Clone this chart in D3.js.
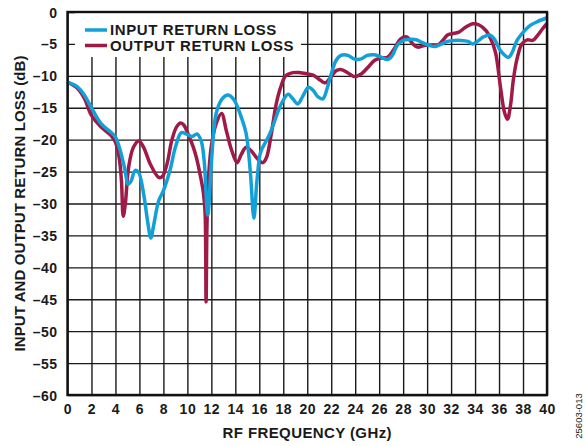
<!DOCTYPE html>
<html>
<head>
<meta charset="utf-8">
<script src="https://cdn.jsdelivr.net/npm/d3@7"></script>
<style>
  html, body { margin: 0; padding: 0; background: #fff; }
  svg { display: block; }
  text { font-family: Arial, 'Liberation Sans', Helvetica, sans-serif; font-weight: bold; fill: #1a1a1a; }
</style>
</head>
<body>
<div id="chart"></div>
<script>
// ── Data ──────────────────────────────────────────────────────
var FREQ_TICKS = [0, 2, 4, 6, 8, 10, 12, 14, 16, 18, 20, 22, 24, 26, 28, 30, 32, 34, 36, 38, 40];
var DB_TICKS   = [0, -5, -10, -15, -20, -25, -30, -35, -40, -45, -50, -55, -60];
var SERIES_NAMES = ['INPUT RETURN LOSS', 'OUTPUT RETURN LOSS'];

var IN_FREQ = [0, 0.8, 1.4, 2.0, 2.8, 3.6, 4.0, 4.4, 4.8, 5.05, 5.3, 5.65, 5.95, 6.35, 6.7, 6.95,
  7.2, 7.6, 8.0, 8.55, 9.0, 9.5, 10.0, 10.4, 10.8, 11.15, 11.4, 11.7, 12.0, 12.4, 12.9, 13.4,
  13.9, 14.5, 14.9, 15.25, 15.55, 15.8, 16.1, 16.4, 16.8, 17.2, 17.6, 18.0, 18.4, 18.8, 19.2,
  19.6, 20.1, 20.5, 20.9, 21.3, 21.7, 22.0, 22.4, 22.8, 23.4, 23.9, 24.5, 25.0, 25.6, 26.2,
  26.7, 27.1, 27.5, 28.0, 28.5, 29.1, 29.6, 30.2, 30.7, 31.1, 31.7, 32.3, 32.8, 33.4, 33.8,
  34.2, 34.7, 35.2, 35.6, 36.1, 36.8, 37.1, 37.5, 38.1, 38.6, 39.2, 40.0];
var IN_DB = [-11.0, -11.7, -13.0, -15.0, -17.5, -18.8, -19.6, -21.7, -24.8, -27.0, -26.5, -24.8,
  -25.2, -28.5, -33.0, -35.4, -33.3, -29.6, -28.0, -24.8, -21.2, -18.9, -19.2, -19.5, -19.1,
  -20.2, -23.3, -31.8, -23.7, -15.9, -13.6, -13.0, -13.8, -16.5, -19.0, -25.0, -32.3, -26.5,
  -22.0, -20.8, -19.4, -17.5, -15.4, -13.8, -12.9, -13.6, -14.4, -13.3, -11.8, -12.3, -13.3,
  -13.6, -11.7, -9.7, -7.6, -6.8, -6.8, -7.35, -7.35, -6.8, -6.7, -7.1, -7.45, -6.8, -5.25,
  -4.45, -4.3, -4.35, -4.8, -5.25, -5.4, -5.1, -4.6, -4.45, -4.45, -4.6, -5.0, -4.6, -3.9,
  -3.6, -4.2, -6.0, -7.1, -6.3, -4.45, -3.0, -2.1, -1.5, -0.9];

var OUT_FREQ = [0, 0.8, 1.4, 2.0, 2.8, 3.6, 4.0, 4.3, 4.5, 4.65, 4.82, 5.1, 5.5, 5.95, 6.35, 6.9,
  7.6, 7.9, 8.3, 8.7, 9.1, 9.45, 9.7, 10.1, 10.5, 10.75, 11.1, 11.35, 11.48, 11.56, 11.64, 11.8,
  12.0, 12.4, 12.85, 13.25, 13.7, 14.15, 14.5, 14.9, 15.3, 15.9, 16.3, 16.6, 17.0, 17.4, 17.8,
  18.2, 18.8, 19.4, 20.0, 20.5, 21.1, 21.5, 21.85, 22.4, 22.8, 23.4, 23.9, 24.5, 25.05, 25.6,
  26.15, 26.7, 27.25, 27.8, 28.3, 28.8, 29.2, 29.75, 30.45, 30.9, 31.3, 31.7, 32.1, 32.65, 33.2,
  33.8, 34.3, 34.9, 35.3, 35.7, 36.1, 36.45, 36.7, 36.95, 37.2, 37.5, 37.9, 38.35, 38.8, 39.2,
  39.6, 40.0];
var OUT_DB = [-11.0, -11.9, -13.5, -16.2, -18.0, -19.3, -20.4, -22.7, -26.4, -32.0, -30.1, -24.3,
  -21.2, -20.2, -21.2, -23.8, -25.9, -25.8, -23.8, -20.1, -18.0, -17.4, -17.7, -19.3, -21.2,
  -22.8, -25.8, -28.5, -31.5, -45.4, -33.0, -25.0, -21.0, -17.5, -15.9, -18.6, -21.7, -23.6,
  -22.3, -21.2, -21.7, -23.1, -23.6, -22.8, -19.1, -14.5, -11.7, -10.0, -9.5, -9.5, -9.7, -9.9,
  -10.7, -11.1, -10.5, -9.2, -9.0, -9.55, -10.1, -9.7, -8.7, -7.6, -7.2, -7.1, -5.8, -4.2, -3.9,
  -5.0, -5.5, -5.25, -5.15, -5.15, -4.46, -3.6, -3.4, -3.15, -2.4, -1.84, -2.0, -2.9, -4.2,
  -6.3, -11.5, -15.7, -16.8, -14.7, -10.5, -7.35, -5.0, -4.36, -4.46, -3.7, -2.7, -1.8];

var COLOR_IN  = '#13a0d8';
var COLOR_OUT = '#a01a47';

// ── Layout ────────────────────────────────────────────────────
var W = 586, H = 446;
var PL = 67.5, PR = 547, PT = 12, PB = 395;

var svg = d3.select('#chart')
  .append('svg')
  .attr('width',  W)
  .attr('height', H);

var x = d3.scaleLinear().domain([0, 40]).range([PL, PR]);
var y = d3.scaleLinear().domain([-60, 0]).range([PB, PT]);

function dashFmt(d) { return d < 0 ? '\u2013' + Math.abs(d) : String(d); }

// ── Grid + tick labels via axes ───────────────────────────────
var xAxis = d3.axisBottom(x)
  .tickValues(FREQ_TICKS)
  .tickSize(-(PB - PT))
  .tickPadding(9)
  .tickFormat(dashFmt);

var yAxis = d3.axisLeft(y)
  .tickValues(DB_TICKS)
  .tickSize(-(PR - PL))
  .tickPadding(10)
  .tickFormat(dashFmt);

var gx = svg.append('g')
  .attr('transform', 'translate(0,' + PB + ')')
  .call(xAxis);

var gy = svg.append('g')
  .attr('transform', 'translate(' + PL + ',0)')
  .call(yAxis);

[gx, gy].forEach(function(g) {
  g.select('.domain').remove();
  g.selectAll('.tick line')
    .attr('stroke',       '#1a1a1a')
    .attr('stroke-width', 1.4);
  g.selectAll('.tick text')
    .attr('fill',           '#1a1a1a')
    .style('font-size',      '14px')
    .style('font-weight',    'bold')
    .style('font-family',    "Arial, 'Liberation Sans', sans-serif")
    .style('letter-spacing', '0.5px');
});

gy.selectAll('.tick text').attr('dy', '0.36em');
gx.selectAll('.tick text').attr('dy', '0.71em');

// ── Legend box (white, hides grid behind it) ──────────────────
svg.append('rect')
  .attr('x',      75)
  .attr('y',      PT + 1)
  .attr('width',  226)
  .attr('height', 44)
  .attr('fill',   '#fff');

// ── Curves ────────────────────────────────────────────────────
var line = d3.line()
  .x(function(d) { return x(d[0]); })
  .y(function(d) { return y(d[1]); })
  .curve(d3.curveCatmullRom.alpha(0.5));

var outPts = OUT_FREQ.map(function(f, i) { return [f, OUT_DB[i]]; });
var inPts  = IN_FREQ.map(function(f, i) { return [f, IN_DB[i]]; });

svg.append('path')
  .attr('d',               line(outPts))
  .attr('fill',            'none')
  .attr('stroke',          COLOR_OUT)
  .attr('stroke-width',    3.5)
  .attr('stroke-linejoin', 'round');

svg.append('path')
  .attr('d',               line(inPts))
  .attr('fill',            'none')
  .attr('stroke',          COLOR_IN)
  .attr('stroke-width',    3.5)
  .attr('stroke-linejoin', 'round');

// ── Plot frame ────────────────────────────────────────────────
svg.append('rect')
  .attr('x',            PL)
  .attr('y',            PT)
  .attr('width',        PR - PL)
  .attr('height',       PB - PT)
  .attr('fill',         'none')
  .attr('stroke',       '#111')
  .attr('stroke-width', 2.4);

// ── Legend entries ────────────────────────────────────────────
var legend = svg.append('g');
[COLOR_IN, COLOR_OUT].forEach(function(c, i) {
  var ly = 30 + i * 15.5;
  legend.append('line')
    .attr('x1', 85).attr('x2', 107)
    .attr('y1', ly).attr('y2', ly)
    .attr('stroke',       c)
    .attr('stroke-width', 3.5);
  legend.append('text')
    .attr('x', 110)
    .attr('y', ly + 5)
    .style('font-size',      '15px')
    .style('letter-spacing', '0.6px')
    .text(SERIES_NAMES[i]);
});

// ── Axis titles ───────────────────────────────────────────────
svg.append('text')
  .attr('x', (PL + PR) / 2)
  .attr('y', 438)
  .attr('text-anchor', 'middle')
  .style('font-size',      '15px')
  .style('letter-spacing', '0.4px')
  .text('RF FREQUENCY (GHz)');

svg.append('text')
  .attr('transform', 'translate(25,' + ((PT + PB) / 2) + ') rotate(-90)')
  .attr('text-anchor', 'middle')
  .style('font-size',      '15px')
  .style('letter-spacing', '0.1px')
  .text('INPUT AND OUTPUT RETURN LOSS (dB)');

svg.append('text')
  .attr('transform', 'translate(582,416) rotate(-90)')
  .attr('text-anchor', 'middle')
  .style('font-size',   '9.5px')
  .style('font-weight', 'normal')
  .text('25603-013');
</script>
</body>
</html>
